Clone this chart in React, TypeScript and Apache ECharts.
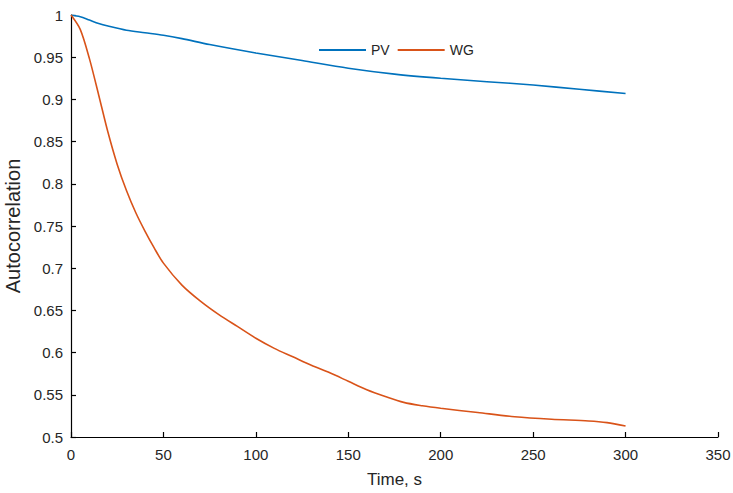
import React, { useEffect, useRef } from "react";
import * as echarts from "echarts";

const pvTime = [0, 5, 10, 15, 20, 30, 40, 50, 60, 75, 100, 125, 150, 175, 200, 225, 250, 275, 300];
const pvValues = [1.0, 0.998, 0.994, 0.99, 0.987, 0.982, 0.979, 0.976, 0.972, 0.965, 0.955, 0.946, 0.937, 0.93, 0.925, 0.921, 0.917, 0.912, 0.907];

const wgTime = [0, 5, 10, 15, 20, 25, 30, 35, 40, 45, 50, 60, 70, 80, 90, 100, 110, 120, 130, 140, 150, 160, 170, 180, 190, 200, 220, 240, 260, 280, 290, 300];
const wgValues = [1.0, 0.983, 0.948, 0.905, 0.861, 0.823, 0.792, 0.766, 0.744, 0.724, 0.706, 0.68, 0.661, 0.645, 0.631, 0.617, 0.605, 0.595, 0.585, 0.576, 0.566, 0.556, 0.548, 0.541, 0.537, 0.534, 0.529, 0.524, 0.521, 0.519, 0.517, 0.513];

const seriesNames = ["PV", "WG"];
const xAxisName = "Time, s";
const yAxisName = "Autocorrelation";

const font = "'Liberation Sans', Arial, Helvetica, sans-serif";

export default function App() {
  const ref = useRef<HTMLDivElement>(null);
  useEffect(() => {
    if (!ref.current) return;
    const chart = echarts.init(ref.current, undefined, { renderer: "svg" });
    chart.setOption({
      animation: false,
      backgroundColor: "#ffffff",
      textStyle: { fontFamily: font },
      grid: { left: 71, right: 15, top: 15, bottom: 56, containLabel: false, outerBoundsMode: "none" },
      legend: {
        left: 314,
        top: 38,
        itemWidth: 47,
        itemHeight: 2,
        itemGap: 8,
        icon: "rect",
        textStyle: { fontFamily: font, fontSize: 14, color: "#262626" },
        data: seriesNames,
      },
      xAxis: {
        type: "value",
        min: 0,
        max: 350,
        interval: 50,
        name: xAxisName,
        nameLocation: "middle",
        nameGap: 34,
        nameTextStyle: { fontFamily: font, fontSize: 17, color: "#262626" },
        axisLine: { show: true, onZero: false, lineStyle: { color: "#000", width: 1.2 } },
        axisTick: { show: true, inside: true, length: 5, lineStyle: { color: "#000", width: 1.2 } },
        axisLabel: { fontFamily: font, fontSize: 15, color: "#262626", margin: 10 },
        splitLine: { show: false },
      },
      yAxis: {
        type: "value",
        min: 0.5,
        max: 1,
        interval: 0.05,
        name: yAxisName,
        nameLocation: "middle",
        nameGap: 40,
        nameTextStyle: { fontFamily: font, fontSize: 20, color: "#262626" },
        axisLine: { show: true, onZero: false, lineStyle: { color: "#000", width: 1.2 } },
        axisTick: { show: true, inside: true, length: 5, lineStyle: { color: "#000", width: 1.2 } },
        axisLabel: {
          fontFamily: font,
          fontSize: 15,
          color: "#262626",
          margin: 8,
          formatter: (v: number) => String(parseFloat(v.toFixed(2))),
        },
        splitLine: { show: false },
      },
      series: [
        {
          name: seriesNames[0],
          type: "line",
          data: pvTime.map((t, i) => [t, pvValues[i]]),
          symbol: "none",
          smooth: 0.3,
          lineStyle: { color: "#0072BD", width: 1.6 },
          itemStyle: { color: "#0072BD" },
        },
        {
          name: seriesNames[1],
          type: "line",
          data: wgTime.map((t, i) => [t, wgValues[i]]),
          symbol: "none",
          smooth: 0.3,
          lineStyle: { color: "#D95319", width: 1.6 },
          itemStyle: { color: "#D95319" },
        },
      ],
    });
    return () => chart.dispose();
  }, []);
  return <div ref={ref} style={{ width: 733, height: 493, position: "absolute", left: 0, top: 0 }} />;
}
